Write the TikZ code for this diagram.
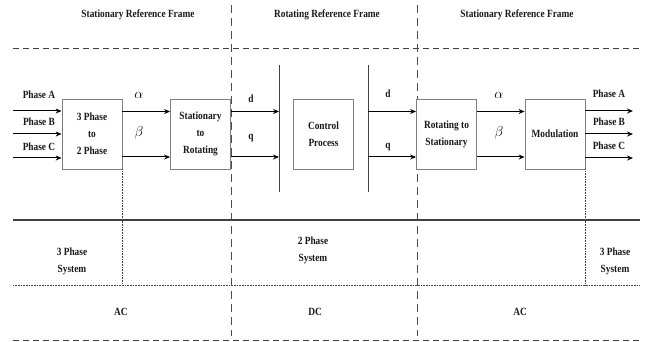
\documentclass[tikz,border=0pt]{standalone}
\usepackage{fontspec}
\setmainfont{Liberation Serif}[FakeStretch=0.85]
\usetikzlibrary{arrows.meta}
\begin{document}
\begin{tikzpicture}[x=1pt,y=-1pt,
  txt/.style={font=\fontsize{11}{17}\selectfont\bfseries, align=center, inner sep=0pt, text=black!90},
  blk/.style={draw=black!50, line width=0.8pt, minimum width=60pt, minimum height=70pt, txt, fill=white},
  arr/.style={line width=1pt, -{Stealth[length=6pt,width=5pt]}},
  dsh/.style={line width=0.9pt, dash pattern=on 6pt off 4pt, black!75},
  vdsh/.style={line width=0.9pt, dash pattern=on 8pt off 5pt, black!70},
  dot/.style={line width=0.8pt, dash pattern=on 0.8pt off 0.8pt, black!75},
  bar/.style={line width=1pt, black!75},
  greek/.style={font=\fontsize{13.5}{14}\selectfont, inner sep=0pt}
]
\useasboundingbox (0,0) rectangle (648,342);

% frame lines
\draw[dsh] (13,48) coordinate (tl) -- (640,48) coordinate (tr);
\draw[vdsh] (231,5) coordinate (v1t) -- (231,336) coordinate (v1b);
\draw[vdsh] (417,5) coordinate (v2t) -- (417,336) coordinate (v2b);
\draw[line width=1.1pt, black!75] (13,220) coordinate (sl) -- (640,220) coordinate (sr);
\draw[dot] (13,285) coordinate (dl) -- (640,285) coordinate (dr);
\draw[dsh] (13,340) coordinate (bl) -- (640,340) coordinate (br);

% titles
\node[txt] (t1) at (138,15) {Stationary Reference Frame};
\node[txt] (t2) at (327,15) {Rotating Reference Frame};
\node[txt] (t3) at (517,15) {Stationary Reference Frame};

% blocks
\node[blk] (b1) at (92,134) {3 Phase\\to\\2 Phase};
\node[blk] (b2) at (200.5,134) {Stationary\\to\\Rotating};
\node[blk] (b3) at (323.5,134) {Control\\Process};
\node[blk] (b4) at (446.5,134) {Rotating to\\Stationary};
\node[blk] (b5) at (555,134) {Modulation};

% rows
\coordinate (rowT) at (0,111.5);
\coordinate (rowB) at (0,157);
\coordinate (inA) at (13,111);
\coordinate (inB) at (13,134);
\coordinate (inC) at (13,158);
\coordinate (outA) at (633,111);
\coordinate (outB) at (633,134);
\coordinate (outC) at (633,158);

% bars
\coordinate (bar1t) at (279,65);
\coordinate (bar1b) at (279,192);
\coordinate (bar2t) at (368,65);
\coordinate (bar2b) at (368,192);
\draw[bar] (bar1t) -- (bar1b);
\draw[bar] (bar2t) -- (bar2b);

% inputs
\draw[arr] (inA) -- (b1.west |- inA);
\draw[arr] (inB) -- (b1.west |- inB);
\draw[arr] (inC) -- (b1.west |- inC);
\node[txt] (lA) at (39,95) {Phase A};
\node[txt] (lB) at (39,122) {Phase B};
\node[txt] (lC) at (39,147) {Phase C};

% alpha beta 1
\draw[arr] (b1.east |- rowT) -- (b2.west |- rowT);
\draw[arr] (b1.east |- rowB) -- (b2.west |- rowB);
\node[greek] (a1) at (139,95) {$\alpha$};
\node[greek] (be1) at (139,133) {$\beta$};

% d q
\draw[arr] (b2.east |- rowT) -- (bar1t |- rowT);
\draw[arr] (b2.east |- rowB) -- (bar1t |- rowB);
\node[txt] (d1) at (251,99) {d};
\node[txt] (q1) at (251,138) {q};
\draw[arr] (bar2t |- rowT) -- (b4.west |- rowT);
\draw[arr] (bar2t |- rowB) -- (b4.west |- rowB);
\node[txt] (d2) at (388,94) {d};
\node[txt] (q2) at (388,147) {q};

% alpha beta 2
\draw[arr] (b4.east |- rowT) -- (b5.west |- rowT);
\draw[arr] (b4.east |- rowB) -- (b5.west |- rowB);
\node[greek] (a2) at (499,95) {$\alpha$};
\node[greek] (be2) at (499,133) {$\beta$};

% outputs
\draw[arr] (b5.east |- outA) -- (outA);
\draw[arr] (b5.east |- outB) -- (outB);
\draw[arr] (b5.east |- outC) -- (outC);
\node[txt] (oA) at (609,94) {Phase A};
\node[txt] (oB) at (609,122) {Phase B};
\node[txt] (oC) at (609,146) {Phase C};

% dotted verticals
\draw[dot] (b1.south east) -- (b1.south east |- dl);
\draw[dot] (b5.south east) -- (b5.south east |- dl);

% lower texts
\node[txt] (s1) at (72,261) {3 Phase\\System};
\node[txt] (s2) at (313,250) {2 Phase\\System};
\node[txt] (s3) at (615,261) {3 Phase\\System};
\node[txt] (ac1) at (121,312) {AC};
\node[txt] (dc) at (315,312) {DC};
\node[txt] (ac2) at (520,312) {AC};
\end{tikzpicture}
\end{document}
